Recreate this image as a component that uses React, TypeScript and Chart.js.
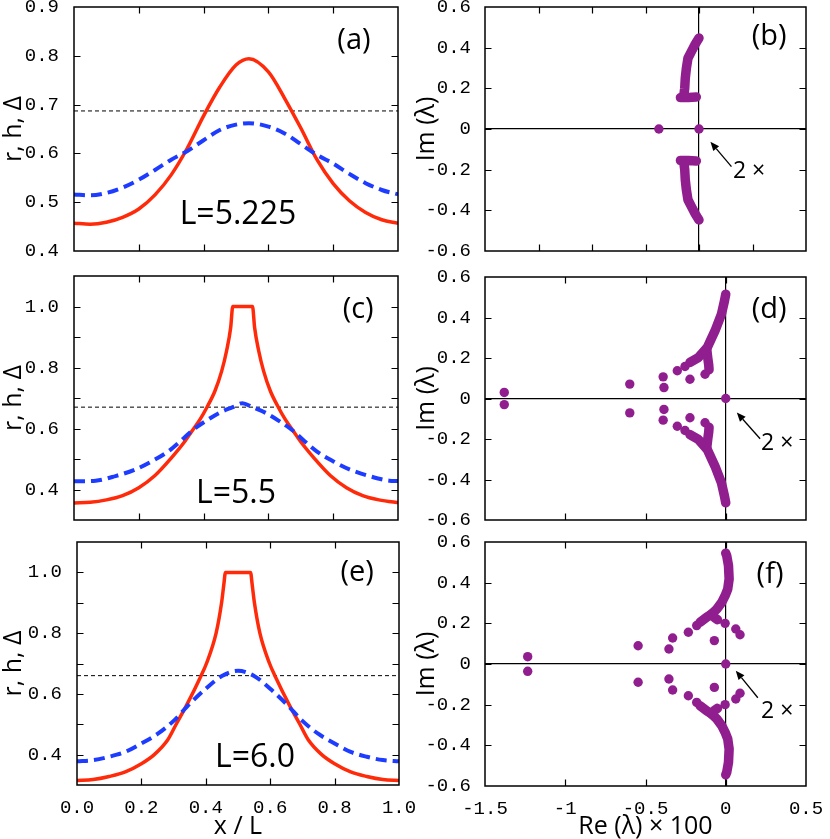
import React, { useEffect, useRef } from "react";
import { Chart, registerables } from "chart.js";
Chart.register(...registerables);

const W = 830;
const H = 839;
const RED = "#ff2a0a";
const BLUE = "#1e3cff";
const PURPLE = "#911e8f";
const MONO = '"Liberation Mono", monospace';
const SANS = '"Open Sans", sans-serif';

// ---------- Panel (a): L = 5.225 ----------
const xA = [0, 0.05, 0.1, 0.15, 0.2, 0.25, 0.3, 0.35, 0.4, 0.45, 0.5, 0.54, 0.6, 0.65, 0.7, 0.75, 0.8, 0.85, 0.9, 0.95, 1.0];
const rA = [0.457, 0.455, 0.459, 0.469, 0.486, 0.515, 0.556, 0.611, 0.677, 0.736, 0.781, 0.794, 0.767, 0.713, 0.652, 0.587, 0.538, 0.503, 0.479, 0.464, 0.457];
const hA = [0.516, 0.514, 0.519, 0.53, 0.546, 0.566, 0.587, 0.605, 0.627, 0.648, 0.659, 0.662, 0.655, 0.641, 0.619, 0.597, 0.579, 0.558, 0.539, 0.525, 0.516];
const deltaA = 0.687;

// ---------- Panel (c): L = 5.5 ----------
const xRC = [0, 0.05, 0.1, 0.15, 0.2, 0.25, 0.3, 0.343, 0.363, 0.389, 0.41, 0.435, 0.456, 0.471, 0.4836, 0.49, 0.551, 0.5574, 0.57, 0.585, 0.606, 0.631, 0.652, 0.678, 0.698, 0.741, 0.791, 0.841, 0.891, 0.941, 0.991, 1.0];
const rC = [0.356, 0.358, 0.366, 0.38, 0.406, 0.446, 0.503, 0.559, 0.59, 0.63, 0.669, 0.723, 0.789, 0.855, 0.931, 1.0, 1.0, 0.931, 0.855, 0.789, 0.723, 0.669, 0.63, 0.59, 0.559, 0.503, 0.446, 0.406, 0.38, 0.366, 0.358, 0.357];
const xHC = [0, 0.067, 0.128, 0.19, 0.241, 0.292, 0.33, 0.368, 0.409, 0.45, 0.49, 0.52, 0.55, 0.59, 0.631, 0.672, 0.71, 0.748, 0.799, 0.85, 0.912, 0.973, 1.0];
const hC = [0.427, 0.429, 0.444, 0.466, 0.493, 0.526, 0.56, 0.596, 0.626, 0.652, 0.67, 0.683, 0.67, 0.652, 0.626, 0.596, 0.56, 0.526, 0.493, 0.466, 0.444, 0.429, 0.428];
const deltaC = 0.67;

// ---------- Panel (e): L = 6.0 ----------
const xRE = [0, 0.05, 0.1, 0.15, 0.2, 0.24, 0.282, 0.308, 0.34, 0.385, 0.402, 0.432, 0.449, 0.456, 0.461, 0.539, 0.544, 0.551, 0.568, 0.598, 0.615, 0.66, 0.692, 0.718, 0.76, 0.8, 0.85, 0.9, 0.95, 1.0];
const rE = [0.315, 0.318, 0.328, 0.343, 0.37, 0.4, 0.449, 0.5, 0.562, 0.659, 0.7, 0.8, 0.9, 0.96, 1.0, 1.0, 0.96, 0.9, 0.8, 0.7, 0.659, 0.562, 0.5, 0.449, 0.4, 0.37, 0.343, 0.328, 0.318, 0.315];
const xHE = [0, 0.05, 0.1, 0.15, 0.2, 0.25, 0.3, 0.35, 0.4, 0.45, 0.5, 0.55, 0.6, 0.65, 0.7, 0.75, 0.8, 0.85, 0.9, 0.95, 1.0];
const hE = [0.378, 0.382, 0.393, 0.409, 0.437, 0.468, 0.511, 0.567, 0.617, 0.659, 0.676, 0.659, 0.617, 0.567, 0.511, 0.468, 0.437, 0.409, 0.393, 0.382, 0.378];
const deltaE = 0.66;

// ---------- Panel (b): eigenvalues ----------
const bDotsRe = [-0.225, 0];
const bDotsIm = [0, 0];
const bUpRe = [0, -0.024, -0.043, -0.062, -0.071, -0.077, -0.08, -0.086, -0.104, -0.06, -0.015];
const bUpIm = [0.447, 0.413, 0.38, 0.348, 0.298, 0.249, 0.2, 0.16, 0.155, 0.155, 0.157];
const bLoRe = [0, -0.024, -0.043, -0.062, -0.071, -0.077, -0.08, -0.086, -0.104, -0.06, -0.015];
const bLoIm = [-0.447, -0.413, -0.38, -0.348, -0.298, -0.249, -0.2, -0.16, -0.155, -0.155, -0.157];

// ---------- Panel (d): eigenvalues ----------
const dDotsRe = [-1.38, -1.38, -0.598, -0.598, -0.39, -0.39, -0.385, -0.385, -0.302, -0.302, -0.254, -0.254, -0.223, -0.223, -0.129, -0.129, 0];
const dDotsIm = [0.03, -0.03, 0.071, -0.071, 0.107, -0.107, 0.054, -0.054, 0.137, -0.137, 0.158, -0.158, 0.095, -0.095, 0.12, -0.12, 0];
const dUpRe = [-0.223, -0.171, -0.115, -0.067, -0.027, -0.008, 0];
const dUpIm = [0.178, 0.202, 0.252, 0.334, 0.416, 0.482, 0.515];
const dLoRe = [-0.223, -0.171, -0.115, -0.067, -0.027, -0.008, 0];
const dLoIm = [-0.178, -0.202, -0.252, -0.334, -0.416, -0.482, -0.515];
const dForkUpRe = [-0.118, -0.112, -0.106, -0.104];
const dForkUpIm = [0.24, 0.2, 0.165, 0.142];
const dForkLoRe = [-0.118, -0.112, -0.106, -0.104];
const dForkLoIm = [-0.24, -0.2, -0.165, -0.142];

// ---------- Panel (f): eigenvalues ----------
const fDotsRe = [-1.234, -1.234, -0.546, -0.546, -0.354, -0.354, -0.331, -0.331, -0.233, -0.233, -0.181, -0.181, -0.071, -0.071, -0.004, -0.004, 0.0625, 0.0625, 0.089, 0.089, 0];
const fDotsIm = [0.036, -0.036, 0.09, -0.09, 0.074, -0.074, 0.128, -0.128, 0.156, -0.156, 0.189, -0.189, 0.115, -0.115, 0.2, -0.2, 0.172, -0.172, 0.144, -0.144, 0];
const fUpRe = [-0.16, -0.119, -0.0875, -0.056, -0.025, -0.004, 0.0125, 0.021, 0.017, 0.006, 0];
const fUpIm = [0.205, 0.23, 0.246, 0.27, 0.303, 0.336, 0.369, 0.418, 0.484, 0.533, 0.545];
const fLoRe = [-0.16, -0.119, -0.0875, -0.056, -0.025, -0.004, 0.0125, 0.021, 0.017, 0.006, 0];
const fLoIm = [-0.205, -0.23, -0.246, -0.27, -0.303, -0.336, -0.369, -0.418, -0.484, -0.533, -0.545];
const fForkUpRe = [-0.09, -0.07, -0.052];
const fForkUpIm = [0.245, 0.228, 0.218];
const fForkLoRe = [-0.09, -0.07, -0.052];
const fForkLoIm = [-0.245, -0.228, -0.218];

// ---------- axis ticks ----------
const leftMajorLabels = [0.4, 0.6, 0.8, 1.0];

const zip = (xs: number[], ys: number[]) => xs.map((x, i) => ({ x, y: ys[i] }));

type TextItem = { text: string; x: number; y: number; size: number; align?: CanvasTextAlign };
type Arrow = { x1: number; y1: number; x2: number; y2: number };

function makeDecor(texts: TextItem[], arrows: Arrow[]) {
  return {
    id: "panelDecor",
    afterDraw(chart: any) {
      const { ctx, chartArea: a, scales } = chart;
      const xs = scales.x;
      const ys = scales.y;
      const tl = 6.5;
      ctx.save();
      ctx.strokeStyle = "#000";
      ctx.lineWidth = 1.2;
      ctx.beginPath();
      for (const t of xs.ticks) {
        if (t.value <= xs.min + 1e-9 || t.value >= xs.max - 1e-9) continue;
        const p = Math.round(xs.getPixelForValue(t.value)) + 0.5;
        ctx.moveTo(p, a.bottom);
        ctx.lineTo(p, a.bottom - tl);
        ctx.moveTo(p, a.top);
        ctx.lineTo(p, a.top + tl);
      }
      for (const t of ys.ticks) {
        if (t.value <= ys.min + 1e-9 || t.value >= ys.max - 1e-9) continue;
        const p = Math.round(ys.getPixelForValue(t.value)) + 0.5;
        ctx.moveTo(a.left, p);
        ctx.lineTo(a.left + tl, p);
        ctx.moveTo(a.right, p);
        ctx.lineTo(a.right - tl, p);
      }
      ctx.stroke();
      ctx.lineWidth = 1.5;
      ctx.strokeRect(a.left, a.top, a.right - a.left, a.bottom - a.top);

      ctx.fillStyle = "#000";
      ctx.textBaseline = "middle";
      for (const t of texts) {
        ctx.font = `${t.size}px ${SANS}`;
        ctx.textAlign = t.align || "center";
        ctx.fillText(t.text, xs.getPixelForValue(t.x), ys.getPixelForValue(t.y));
      }
      for (const ar of arrows) {
        const x1 = xs.getPixelForValue(ar.x1);
        const y1 = ys.getPixelForValue(ar.y1);
        const x2 = xs.getPixelForValue(ar.x2);
        const y2 = ys.getPixelForValue(ar.y2);
        const ang = Math.atan2(y2 - y1, x2 - x1);
        const hl = 9;
        const hw = 3.8;
        const bx = x2 - hl * Math.cos(ang);
        const by = y2 - hl * Math.sin(ang);
        ctx.lineWidth = 1.3;
        ctx.beginPath();
        ctx.moveTo(x1, y1);
        ctx.lineTo(bx, by);
        ctx.stroke();
        ctx.beginPath();
        ctx.moveTo(x2, y2);
        ctx.lineTo(bx + hw * Math.sin(ang), by - hw * Math.cos(ang));
        ctx.lineTo(bx - hw * Math.sin(ang), by + hw * Math.cos(ang));
        ctx.closePath();
        ctx.fill();
      }
      ctx.restore();
    },
  };
}

type PanelCfg = {
  area: { l: number; t: number; r: number; b: number };
  yW: number;
  xH: number;
  x: { min: number; max: number; step: number; labels: boolean; title?: string; fmt: (v: number) => string };
  y: { min: number; max: number; step: number; title: string; fmt: (v: number) => string; pad: number };
  zeroLines: boolean;
  datasets: any[];
  texts: TextItem[];
  arrows: Arrow[];
};

const lineDs = (data: any[], color: string, width: number, dash: number[] = [], smooth = true) => ({
  data,
  showLine: true,
  borderColor: color,
  borderWidth: width,
  borderDash: dash,
  pointRadius: 0,
  fill: false,
  cubicInterpolationMode: smooth ? "monotone" : "default",
  tension: 0,
});

const branchDs = (data: any[]) => ({
  data,
  showLine: true,
  borderColor: PURPLE,
  borderWidth: 9.5,
  borderCapStyle: "round",
  borderJoinStyle: "round",
  pointRadius: 0,
  tension: 0,
  fill: false,
});

const dotDs = (data: any[]) => ({
  data,
  showLine: false,
  pointRadius: 4.7,
  pointBackgroundColor: PURPLE,
  pointBorderWidth: 0,
  backgroundColor: PURPLE,
  borderColor: PURPLE,
});

const leftSets = (xr: number[], r: number[], xh: number[], h: number[], delta: number) => [
  lineDs(zip(xh, h), BLUE, 4, [11, 6]),
  lineDs(zip(xr, r), RED, 3.5),
  lineDs(zip([0, 1], [delta, delta]), "#000", 1, [4, 3], false),
];

const fmt1 = (v: number) => Number(v).toFixed(1);
const fmtMajor = (v: number) => (leftMajorLabels.some((t) => Math.abs(t - v) < 1e-6) ? Number(v).toFixed(1) : "");
const fmtG = (v: number) => {
  const r = Math.round(Number(v) * 10) / 10;
  return String(r === 0 ? 0 : r);
};

const YT = "r, h, Δ";
const IMT = "Im (λ)";

const panels: PanelCfg[] = [
  {
    area: { l: 74, t: 7, r: 398, b: 251 }, yW: 74, xH: 0,
    x: { min: 0, max: 1, step: 0.2, labels: false, fmt: fmt1 },
    y: { min: 0.4, max: 0.9, step: 0.1, title: YT, fmt: fmt1, pad: 15 },
    zeroLines: false,
    datasets: leftSets(xA, rA, xA, hA, deltaA),
    texts: [
      { text: "(a)", x: 0.864, y: 0.83, size: 29 },
      { text: "L=5.225", x: 0.506, y: 0.474, size: 32 },
    ],
    arrows: [],
  },
  {
    area: { l: 485, t: 7, r: 806, b: 251 }, yW: 72, xH: 0,
    x: { min: -1.2, max: 0.6, step: 0.3, labels: false, fmt: fmtG },
    y: { min: -0.6, max: 0.6, step: 0.2, title: IMT, fmt: fmtG, pad: 14 },
    zeroLines: true,
    datasets: [dotDs(zip(bDotsRe, bDotsIm)), branchDs(zip(bUpRe, bUpIm)), branchDs(zip(bLoRe, bLoIm))],
    texts: [
      { text: "(b)", x: 0.393, y: 0.452, size: 29 },
      { text: "2 ×", x: 0.19, y: -0.21, size: 23, align: "left" },
    ],
    arrows: [{ x1: 0.182, y1: -0.185, x2: 0.064, y2: -0.0625 }],
  },
  {
    area: { l: 74, t: 276, r: 398, b: 520 }, yW: 74, xH: 0,
    x: { min: 0, max: 1, step: 0.2, labels: false, fmt: fmt1 },
    y: { min: 0.3, max: 1.1, step: 0.1, title: YT, fmt: fmtMajor, pad: 15 },
    zeroLines: false,
    datasets: leftSets(xRC, rC, xHC, hC, deltaC),
    texts: [
      { text: "(c)", x: 0.877, y: 0.988, size: 29 },
      { text: "L=5.5", x: 0.5, y: 0.385, size: 32 },
    ],
    arrows: [],
  },
  {
    area: { l: 485, t: 277, r: 806, b: 520 }, yW: 72, xH: 0,
    x: { min: -1.5, max: 0.5, step: 0.5, labels: false, fmt: fmtG },
    y: { min: -0.6, max: 0.6, step: 0.2, title: IMT, fmt: fmtG, pad: 14 },
    zeroLines: true,
    datasets: [
      dotDs(zip(dDotsRe, dDotsIm)),
      branchDs(zip(dUpRe, dUpIm)),
      branchDs(zip(dLoRe, dLoIm)),
      branchDs(zip(dForkUpRe, dForkUpIm)),
      branchDs(zip(dForkLoRe, dForkLoIm)),
    ],
    texts: [
      { text: "(d)", x: 0.27, y: 0.437, size: 29 },
      { text: "2 ×", x: 0.22, y: -0.224, size: 23, align: "left" },
    ],
    arrows: [{ x1: 0.214, y1: -0.199, x2: 0.069, y2: -0.069 }],
  },
  {
    area: { l: 77, t: 542, r: 399, b: 785 }, yW: 77, xH: 54,
    x: { min: 0, max: 1, step: 0.2, labels: true, title: "x / L", fmt: fmt1 },
    y: { min: 0.3, max: 1.1, step: 0.1, title: YT, fmt: fmtMajor, pad: 15 },
    zeroLines: false,
    datasets: leftSets(xRE, rE, xHE, hE, deltaE),
    texts: [
      { text: "(e)", x: 0.87, y: 0.998, size: 29 },
      { text: "L=6.0", x: 0.553, y: 0.389, size: 32 },
    ],
    arrows: [],
  },
  {
    area: { l: 485, t: 542, r: 806, b: 786 }, yW: 72, xH: 53,
    x: { min: -1.5, max: 0.5, step: 0.5, labels: true, title: "Re (λ) × 100", fmt: fmtG },
    y: { min: -0.6, max: 0.6, step: 0.2, title: IMT, fmt: fmtG, pad: 14 },
    zeroLines: true,
    datasets: [
      dotDs(zip(fDotsRe, fDotsIm)),
      branchDs(zip(fUpRe, fUpIm)),
      branchDs(zip(fLoRe, fLoIm)),
      branchDs(zip(fForkUpRe, fForkUpIm)),
      branchDs(zip(fForkLoRe, fForkLoIm)),
    ],
    texts: [
      { text: "(f)", x: 0.276, y: 0.438, size: 29 },
      { text: "2 ×", x: 0.22, y: -0.235, size: 23, align: "left" },
    ],
    arrows: [{ x1: 0.2, y1: -0.166, x2: 0.0625, y2: -0.033 }],
  },
];

const zeroColor = (ctx: any) =>
  ctx.tick && Math.abs(ctx.tick.value) < 1e-9 ? "#000" : "rgba(0,0,0,0)";

function buildConfig(p: PanelCfg): any {
  const padding = {
    left: p.area.l - p.yW,
    top: p.area.t,
    right: W - p.area.r,
    bottom: H - p.area.b - p.xH,
  };
  return {
    type: "scatter",
    data: { datasets: p.datasets },
    plugins: [makeDecor(p.texts, p.arrows)],
    options: {
      responsive: false,
      maintainAspectRatio: false,
      animation: false,
      events: [],
      layout: { padding },
      plugins: { legend: { display: false }, tooltip: { enabled: false }, title: { display: false } },
      scales: {
        x: {
          type: "linear",
          position: "bottom",
          min: p.x.min,
          max: p.x.max,
          border: { display: false },
          grid: {
            display: p.zeroLines,
            drawTicks: false,
            color: zeroColor,
            lineWidth: 1.2,
          },
          ticks: {
            display: p.x.labels,
            stepSize: p.x.step,
            autoSkip: false,
            maxRotation: 0,
            minRotation: 0,
            padding: 12,
            color: "#000",
            font: { family: MONO, size: 19 },
            callback: (v: any) => p.x.fmt(Number(v)),
          },
          title: {
            display: !!p.x.title,
            text: p.x.title || "",
            color: "#000",
            font: { family: SANS, size: 25, lineHeight: 1 },
            padding: { top: 0, bottom: 0 },
          },
          afterFit: (s: any) => {
            s.height = p.xH;
            s.paddingLeft = 0;
            s.paddingRight = 0;
          },
        },
        y: {
          type: "linear",
          position: "left",
          min: p.y.min,
          max: p.y.max,
          border: { display: false },
          grid: {
            display: p.zeroLines,
            drawTicks: false,
            color: zeroColor,
            lineWidth: 1.2,
          },
          ticks: {
            stepSize: p.y.step,
            autoSkip: false,
            padding: p.y.pad,
            color: "#000",
            font: { family: MONO, size: 19 },
            callback: (v: any) => p.y.fmt(Number(v)),
          },
          title: {
            display: true,
            text: p.y.title,
            color: "#000",
            font: { family: SANS, size: 25, lineHeight: 1 },
            padding: { top: 1, bottom: 0 },
          },
          afterFit: (s: any) => {
            s.width = p.yW;
            s.paddingTop = 0;
            s.paddingBottom = 0;
          },
        },
      },
    },
  };
}

function Panel({ cfg }: { cfg: PanelCfg }) {
  const ref = useRef<HTMLCanvasElement>(null);
  useEffect(() => {
    const chart = new Chart(ref.current as HTMLCanvasElement, buildConfig(cfg));
    return () => chart.destroy();
  }, [cfg]);
  return (
    <canvas
      ref={ref}
      width={W}
      height={H}
      style={{ position: "absolute", left: 0, top: 0, width: W, height: H }}
    />
  );
}

export default function App() {
  return (
    <div style={{ position: "absolute", left: 0, top: 0, width: W, height: H, background: "#fff", overflow: "hidden" }}>
      {panels.map((p, i) => (
        <Panel key={i} cfg={p} />
      ))}
    </div>
  );
}
